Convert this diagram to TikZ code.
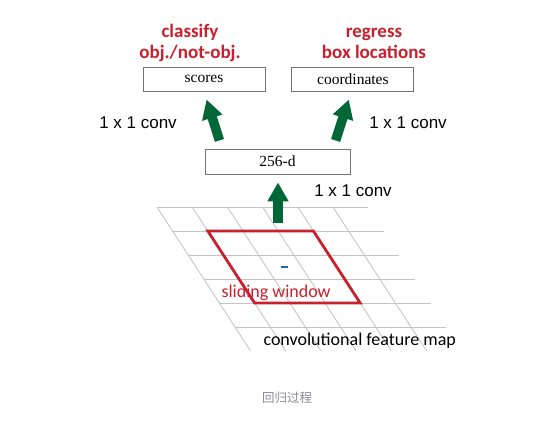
\documentclass[tikz,border=0pt]{standalone}
\usepackage{fontspec}
\setmainfont{Liberation Serif}
\newfontfamily\calibrifont{Carlito}
\newfontfamily\arialfont{Liberation Sans}
\newfontfamily\cjkfont{Noto Sans CJK SC}
\usetikzlibrary{arrows.meta}
\usetikzlibrary{positioning}
\usetikzlibrary{calc}

\definecolor{clsred}{RGB}{200,32,45}
\definecolor{arrowgreen}{RGB}{0,104,55}
\definecolor{gridgray}{RGB}{195,195,195}
\definecolor{boxgray}{RGB}{115,115,115}
\definecolor{captiongray}{RGB}{140,140,150}
\definecolor{dotblue}{RGB}{30,100,180}

\begin{document}
\begin{tikzpicture}[x=1pt, y=-1pt,
      box/.style={rectangle, draw=boxgray, line width=0.9pt, minimum width=122pt, minimum height=24pt, inner sep=0pt, font=\fontsize{15.5}{18}\selectfont},
      task/.style={text=clsred, align=center, font=\calibrifont\bfseries\fontsize{19}{21}\selectfont},
      conv/.style={font=\arialfont\fontsize{17}{20}\selectfont},
      convarrow/.style={-{Triangle[width=20pt,length=19pt]}, arrowgreen, line width=9.5pt},
      gridline/.style={draw=gridgray, line width=0.8pt},
      maptext/.style={anchor=base west, font=\calibrifont\fontsize{18}{20}\selectfont}
      ]

      \path[use as bounding box, fill=white] (0,0) rectangle (539,423);

      % Feature map grid
      \begin{scope}[shift={(157,207)}, x={(35.2pt,0pt)}, y={(15.6pt,-24pt)}]
        \foreach \v in {0,...,5}
          \draw[gridline] (0,\v) -- (6,\v);
        \foreach \u in {0,...,5}
          \draw[gridline] (\u,0) -- (\u,6);
        \draw[clsred, line width=2.8pt, line join=miter] (1,1) -- (4,1) -- (4,4) -- (1,4) -- cycle;
        \fill[dotblue] (2.43,2.46) rectangle (2.6,2.56);
      \end{scope}

      % Nodes
      \node[box] (scores) at (204,79) {scores};
      \node[box, right=26pt of scores] (coords) {coordinates};
      \node[box, minimum width=145pt, minimum height=25pt] (d256) at (277.5,161.5) {256-d};

      \node[task] (cls) at (190,43) {classify\\obj./not-obj.};
      \node[task] (reg) at (374,43) {regress\\box locations};

      \node[conv] (convL) at (138,123) {1 x 1 conv};
      \node[conv] (convR) at (408,123) {1 x 1 conv};
      \node[conv] (convB) at (353,191) {1 x 1 conv};

      \node[maptext, text=clsred] (slide) at (218,297) {sliding window};
      \node[maptext] (fmap) at (260,345) {convolutional feature map};

      \node[text=captiongray, font=\cjkfont\fontsize{12.5}{14}\selectfont] (caption) at (287,398) {回归过程};

      % Arrows
      \coordinate (wintop) at (278,223);
      \draw[convarrow, shorten >=8pt] (wintop) -- (wintop |- d256.south);
      \draw[convarrow, shorten <=8.5pt, shorten >=8.5pt] ([xshift=-55.5pt]d256.north) -- (scores.south);
      \draw[convarrow, shorten <=8.5pt, shorten >=8.5pt] ([xshift=55.5pt]d256.north) -- ([xshift=-1.5pt]coords.south);

    \end{tikzpicture}
\end{document}
